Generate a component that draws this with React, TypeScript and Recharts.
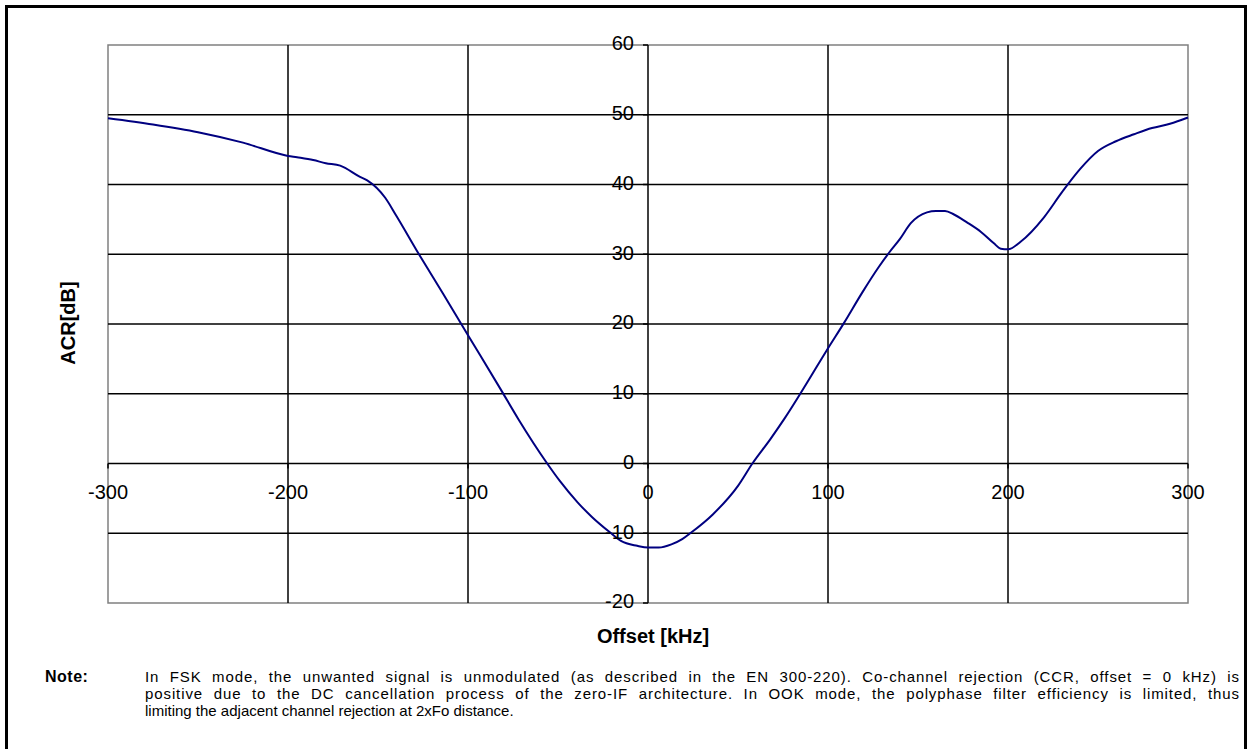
import React from 'react';
import { LineChart, Line, XAxis, YAxis, ReferenceLine, ReferenceArea, ReferenceDot } from 'recharts';

// offset in kHz and ACR in dB
const offsets = [
    -300, -275, -250, -225, -200, -195, -186, -179, -171, -160, -156, -146, -140, -127, -114, -100,
    -82, -72, -56, -49, -39, -31, -21, -15, -6, 0, 6, 13, 19, 24, 36, 50, 58, 68, 76, 95, 99, 109,
    119, 128, 134, 140, 146, 155, 160, 165, 170, 177, 185, 192, 196, 200, 207, 220, 230, 240, 250,
    260, 270, 280, 290, 300,
];
const acr = [
    49.5, 48.6, 47.5, 46.0, 44.1, 43.9, 43.5, 43.05, 42.7, 41.1, 40.6, 38.1, 35.6, 29.9, 24.4, 18.4,
    10.7, 6.35, 0, -2.5, -5.6, -7.7, -9.9, -11.1, -11.8, -12.05, -12.05, -11.6, -10.85, -9.9, -7.3,
    -3.2, 0, 3.5, 6.5, 14.4, 16.1, 20.2, 24.5, 28.1, 30.25, 32.2, 34.45, 36.0, 36.2, 36.2, 35.7,
    34.6, 33.2, 31.6, 30.8, 30.7, 31.8, 35.3, 38.9, 42.2, 44.8, 46.2, 47.2, 48.1, 48.7, 49.6,
];

const xTicks = [-300, -200, -100, 0, 100, 200, 300];
const yTicks = [-20, -10, 0, 10, 20, 30, 40, 50, 60];
const xGrid = [-200, -100, 0, 100, 200];
const yGrid = [-10, 0, 10, 20, 30, 40, 50];

const noteLines = [
    'In FSK mode, the unwanted signal is unmodulated (as described in the EN 300-220). Co-channel rejection (CCR, offset = 0 kHz) is',
    'positive due to the DC cancellation process of the zero-IF architecture. In OOK mode, the polyphase filter efficiency is limited, thus',
    'limiting the adjacent channel rejection at 2xFo distance.',
];

const data = offsets.map((x, i) => ({ x, acr: acr[i] }));

const FONT = '"Liberation Sans", Arial, sans-serif';

const XTick = (value: number) => (props: any) => (
    <g>
        <line x1={props.cx} y1={props.cy} x2={props.cx} y2={props.cy + 5} stroke="#000" strokeWidth={1.5} />
        <text x={props.cx} y={props.cy + 30} textAnchor="middle" dominantBaseline="middle" fontFamily={FONT} fontSize={20} fill="#000">{value}</text>
    </g>
);

const YTick = (value: number) => (props: any) => (
    <g>
        <line x1={props.cx - 5} y1={props.cy} x2={props.cx} y2={props.cy} stroke="#000" strokeWidth={1.5} />
        <text x={props.cx - 14} y={props.cy} textAnchor="end" dominantBaseline="middle" fontFamily={FONT} fontSize={20} fill="#000">{value}</text>
    </g>
);

export default function App() {
    return (
        <div style={{ position: 'absolute', left: 0, top: 0, width: 1251, height: 749, background: '#fff', overflow: 'hidden', fontFamily: FONT }}>
            <div style={{ position: 'absolute', left: 5, top: 5, width: 1242, height: 800, border: '3px solid #000', boxSizing: 'border-box' }} />
            <div style={{ position: 'absolute', left: 0, top: 0 }}>
                <LineChart width={1251} height={749} data={data} margin={{ top: 45, right: 63, bottom: 146, left: 108 }}>
                    <XAxis dataKey="x" type="number" domain={[-300, 300]} hide />
                    <YAxis type="number" domain={[-20, 60]} hide />
                    <ReferenceArea x1={-300} x2={300} y1={-20} y2={60} stroke="#808080" strokeWidth={1.5} fill="none" fillOpacity={0} ifOverflow="visible" />
                    {yGrid.map(v => <ReferenceLine key={'h' + v} y={v} stroke="#000" strokeWidth={1.5} />)}
                    {xGrid.map(v => <ReferenceLine key={'v' + v} x={v} stroke="#000" strokeWidth={1.5} />)}
                    <Line type="monotone" dataKey="acr" stroke="#000080" strokeWidth={2} dot={false} isAnimationActive={false} />
                    {xTicks.map(v => <ReferenceDot key={'xt' + v} x={v} y={0} r={0} ifOverflow="visible" shape={XTick(v)} />)}
                    {yTicks.map(v => <ReferenceDot key={'yt' + v} x={0} y={v} r={0} ifOverflow="visible" shape={YTick(v)} />)}
                </LineChart>
            </div>
            <div style={{ position: 'absolute', left: 68, top: 323, transform: 'translate(-50%, -50%) rotate(-90deg)', fontWeight: 'bold', fontSize: 20, whiteSpace: 'nowrap' }}>ACR[dB]</div>
            <div style={{ position: 'absolute', left: 653, top: 636, transform: 'translate(-50%, -50%)', fontWeight: 'bold', fontSize: 20, whiteSpace: 'nowrap' }}>Offset [kHz]</div>
            <div style={{ position: 'absolute', left: 45, top: 668, fontWeight: 'bold', fontSize: 16, letterSpacing: 0.5, lineHeight: '17px' }}>Note:</div>
            <div style={{ position: 'absolute', left: 145, top: 668, width: 1095, fontSize: 15, lineHeight: '17px' }}>
                {noteLines.map((t, i) => (
                    <div key={i} style={{ textAlign: i < 2 ? 'justify' : 'left', textAlignLast: i < 2 ? 'justify' : 'left', letterSpacing: i < 2 ? 0.9 : 0, whiteSpace: 'nowrap' }}>{t}</div>
                ))}
            </div>
        </div>
    );
}
